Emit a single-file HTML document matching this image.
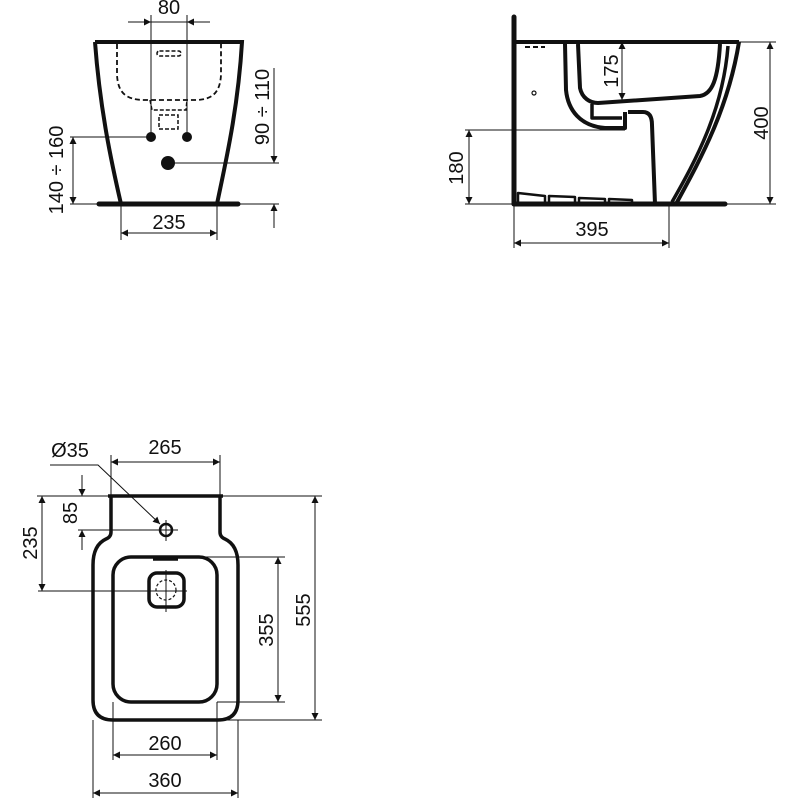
<!DOCTYPE html>
<html><head><meta charset="utf-8"><style>
html,body{margin:0;padding:0;background:#fff}
svg{display:block}
text{font-family:"Liberation Sans",Arial,sans-serif;font-size:20px;fill:#111}
</style></head><body>
<svg width="800" height="800" viewBox="0 0 800 800" xmlns="http://www.w3.org/2000/svg">
<defs>
<marker id="a" viewBox="0 0 10 10" refX="10" refY="5" markerWidth="14" markerHeight="7" markerUnits="userSpaceOnUse" orient="auto-start-reverse"><path d="M0,0L10,5L0,10z" fill="#111"/></marker>
</defs>
<g stroke="#111" fill="none">
<!-- FRONT VIEW -->
<path d="M95,42 L242,42 C238,110 225,165 217,204 M95,42 C100,110 112,165 121,204" stroke-width="4"/>
<line x1="99" y1="204" x2="238" y2="204" stroke-width="5" stroke-linecap="round"/>
<path d="M117,44 L117,75 C118,92 125,100 145,100 L195,100 C213,100 220,92 221,75 L221,44" stroke-width="1.8" stroke-dasharray="5,3"/>
<rect x="157" y="51" width="24" height="5" rx="2.5" stroke-width="1.5" stroke-dasharray="4,2"/>
<path d="M150,100 L152,110 L186,110 L187,100" stroke-width="1.5" stroke-dasharray="4,2"/>
<rect x="159" y="115" width="19" height="14" stroke-width="1.5" stroke-dasharray="4,2"/>
<line x1="151" y1="15" x2="151" y2="137" stroke-width="1"/>
<line x1="187" y1="15" x2="187" y2="137" stroke-width="1"/>
<line x1="128" y1="22" x2="151" y2="22" stroke-width="1" marker-end="url(#a)"/>
<line x1="210" y1="22" x2="187" y2="22" stroke-width="1" marker-end="url(#a)"/>
<line x1="151" y1="22" x2="187" y2="22" stroke-width="1"/>
<line x1="70" y1="137" x2="151" y2="137" stroke-width="1"/>
<line x1="73" y1="137" x2="73" y2="204" stroke-width="1" marker-start="url(#a)" marker-end="url(#a)"/>
<line x1="70" y1="204" x2="99" y2="204" stroke-width="1"/>
<line x1="238" y1="204" x2="279" y2="204" stroke-width="1"/>
<line x1="168" y1="163" x2="279" y2="163" stroke-width="1"/>
<line x1="274" y1="68" x2="274" y2="163" stroke-width="1" marker-end="url(#a)"/>
<line x1="274" y1="228" x2="274" y2="204" stroke-width="1" marker-end="url(#a)"/>
<line x1="121" y1="204" x2="121" y2="240" stroke-width="1"/>
<line x1="217" y1="204" x2="217" y2="240" stroke-width="1"/>
<line x1="121" y1="233" x2="217" y2="233" stroke-width="1" marker-start="url(#a)" marker-end="url(#a)"/>
</g>
<g fill="#111">
<circle cx="151" cy="137" r="5"/><circle cx="187" cy="137" r="5"/><circle cx="168" cy="163" r="7"/>
</g>
<text x="169" y="14" text-anchor="middle">80</text>
<text x="169" y="229" text-anchor="middle">235</text>
<text transform="translate(63,170) rotate(-90)" text-anchor="middle">140 ÷ 160</text>
<text transform="translate(269,107) rotate(-90)" text-anchor="middle">90 ÷ 110</text>

<!-- SIDE VIEW -->
<g stroke="#111" fill="none" stroke-linejoin="round">
<line x1="514" y1="17" x2="514" y2="204" stroke-width="5" stroke-linecap="round"/>
<line x1="514" y1="42" x2="739" y2="42" stroke-width="4"/>
<line x1="514" y1="204" x2="725" y2="204" stroke-width="5" stroke-linecap="round"/>
<path d="M739,42 C728,110 700,160 676,204" stroke-width="4"/>
<path d="M728,46 C723,110 696,160 672,202" stroke-width="3.5"/>
<path d="M565,44 L566,90 C568,110 580,126 605,128 L625,128 L625,112" stroke-width="4"/>
<path d="M578,44 L580,88 C582,98 590,103 598,103 L700,96 C712,94 718,80 720,44" stroke-width="4"/>
<path d="M592,104 L592,118 L622,118" stroke-width="3.5"/>
<path d="M628,112 L643,112 C650,112 652,118 652,125 L655,204" stroke-width="4"/>
<path d="M518,202 L518,193 L545,196 L545,202 M549,202 L549,196 L575,197 L575,202 M579,202 L579,198 L605,199 L605,202 M609,202 L609,199 L632,200 L632,202" stroke-width="2.5"/>
<path d="M525,47 L545,47" stroke-width="2" stroke-dasharray="5,3"/>
<circle cx="534" cy="93" r="2" stroke-width="1.2"/>
<line x1="739" y1="42" x2="776" y2="42" stroke-width="1"/>
<line x1="725" y1="204" x2="776" y2="204" stroke-width="1"/>
<line x1="770" y1="42" x2="770" y2="204" stroke-width="1" marker-start="url(#a)" marker-end="url(#a)"/>
<line x1="622" y1="42" x2="622" y2="100" stroke-width="1" marker-start="url(#a)" marker-end="url(#a)"/>
<line x1="465" y1="130" x2="625" y2="130" stroke-width="1"/>
<line x1="465" y1="204" x2="514" y2="204" stroke-width="1"/>
<line x1="469" y1="130" x2="469" y2="204" stroke-width="1" marker-start="url(#a)" marker-end="url(#a)"/>
<line x1="514" y1="204" x2="514" y2="248" stroke-width="1"/>
<line x1="669" y1="204" x2="669" y2="248" stroke-width="1"/>
<line x1="514" y1="243" x2="669" y2="243" stroke-width="1" marker-start="url(#a)" marker-end="url(#a)"/>
</g>
<text x="592" y="236" text-anchor="middle">395</text>
<text transform="translate(618,71) rotate(-90)" text-anchor="middle">175</text>
<text transform="translate(768,123) rotate(-90)" text-anchor="middle">400</text>
<text transform="translate(463,168) rotate(-90)" text-anchor="middle">180</text>

<!-- TOP VIEW -->
<g stroke="#111" fill="none" stroke-linejoin="round">
<path d="M111,496 L111,532 Q111,537 106,539 Q93,545 93,565 L93,700 Q93,720 113,720 L218,720 Q238,720 238,700 L238,565 Q238,545 225,539 Q220,537 220,532 L220,496" stroke-width="3.5"/>
<line x1="108" y1="496" x2="223" y2="496" stroke-width="3.5"/>
<rect x="113" y="557" width="104" height="145" rx="18" stroke-width="3.5"/>
<line x1="153" y1="559" x2="178" y2="559" stroke-width="3.5"/>
<rect x="149" y="573" width="35" height="34" rx="8" stroke-width="3.5"/>
<circle cx="166" cy="590" r="10" stroke-width="1.2" stroke-dasharray="3,2"/>
<line x1="166" y1="570" x2="166" y2="612" stroke-width="1"/>
<circle cx="166" cy="530" r="6" stroke-width="2.5"/>
<line x1="166" y1="520" x2="166" y2="541" stroke-width="1"/>
<line x1="78" y1="530" x2="178" y2="530" stroke-width="1"/>
<path d="M50,465 L98,465 L160,524" stroke-width="1" marker-end="url(#a)"/>
<line x1="111" y1="455" x2="111" y2="496" stroke-width="1"/>
<line x1="220" y1="455" x2="220" y2="496" stroke-width="1"/>
<line x1="111" y1="462" x2="220" y2="462" stroke-width="1" marker-start="url(#a)" marker-end="url(#a)"/>
<line x1="37" y1="496" x2="322" y2="496" stroke-width="1"/>
<line x1="38" y1="591" x2="187" y2="591" stroke-width="1"/>
<line x1="42" y1="496" x2="42" y2="591" stroke-width="1" marker-start="url(#a)" marker-end="url(#a)"/>
<line x1="82" y1="475" x2="82" y2="496" stroke-width="1" marker-end="url(#a)"/>
<line x1="82" y1="550" x2="82" y2="530" stroke-width="1" marker-end="url(#a)"/>
<line x1="200" y1="720" x2="322" y2="720" stroke-width="1"/>
<line x1="315" y1="496" x2="315" y2="720" stroke-width="1" marker-start="url(#a)" marker-end="url(#a)"/>
<line x1="180" y1="557" x2="285" y2="557" stroke-width="1"/>
<line x1="217" y1="702" x2="285" y2="702" stroke-width="1"/>
<line x1="278" y1="557" x2="278" y2="702" stroke-width="1" marker-start="url(#a)" marker-end="url(#a)"/>
<line x1="113" y1="702" x2="113" y2="760" stroke-width="1"/>
<line x1="217" y1="702" x2="217" y2="760" stroke-width="1"/>
<line x1="113" y1="755" x2="217" y2="755" stroke-width="1" marker-start="url(#a)" marker-end="url(#a)"/>
<line x1="93" y1="720" x2="93" y2="798" stroke-width="1"/>
<line x1="238" y1="720" x2="238" y2="798" stroke-width="1"/>
<line x1="93" y1="793" x2="238" y2="793" stroke-width="1" marker-start="url(#a)" marker-end="url(#a)"/>
</g>
<text x="70" y="457" text-anchor="middle">Ø35</text>
<text x="165" y="454" text-anchor="middle">265</text>
<text x="165" y="750" text-anchor="middle">260</text>
<text x="165" y="787" text-anchor="middle">360</text>
<text transform="translate(77,513) rotate(-90)" text-anchor="middle">85</text>
<text transform="translate(37,543) rotate(-90)" text-anchor="middle">235</text>
<text transform="translate(310,610) rotate(-90)" text-anchor="middle">555</text>
<text transform="translate(273,630) rotate(-90)" text-anchor="middle">355</text>
</svg>
</body></html>
